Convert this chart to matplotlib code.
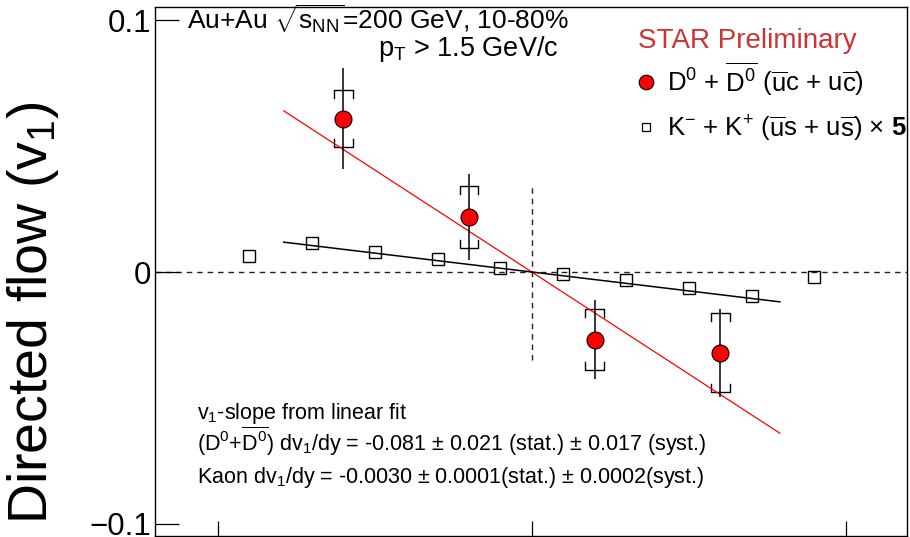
import numpy as np
import matplotlib
matplotlib.use('Agg')
import matplotlib.pyplot as plt
from matplotlib.lines import Line2D

plt.rcParams['font.family'] = ['Liberation Sans', 'DejaVu Sans']
plt.rcParams['mathtext.fontset'] = 'custom'
plt.rcParams['mathtext.rm'] = 'Liberation Sans'
plt.rcParams['mathtext.it'] = 'Liberation Sans'
plt.rcParams['mathtext.sf'] = 'Liberation Sans'
plt.rcParams['mathtext.bf'] = 'Liberation Sans:bold'

# D0 + D0bar v1 vs rapidity
d0_y = [-0.6, -0.2, 0.2, 0.6]
d0_v1 = [0.0609, 0.0218, -0.0268, -0.0320]
d0_stat = [0.0200, 0.0171, 0.0157, 0.0175]
d0_syst = [0.0112, 0.0124, 0.0122, 0.0157]

# kaon v1 (already scaled by 5)
k_y = [-0.9, -0.7, -0.5, -0.3, -0.1, 0.1, 0.3, 0.5, 0.7, 0.9]
k_v1_x5 = [0.0065, 0.0115, 0.0078, 0.0050, 0.0015, -0.0009, -0.0032, -0.0065, -0.0095, -0.0021]

# linear fit slopes
d0_slope = -0.081
k_slope = -0.0030
k_scale = 5
fit_range = 0.79

fig = plt.figure(figsize=(9.1, 5.37), dpi=100)
ax = fig.add_axes([155 / 910, 1 / 537, 752 / 910, 529 / 537])
ax.set_xlim(-1.2, 1.195)
ax.set_ylim(-0.1048, 0.1052)

# reference lines
ax.axhline(0, color='#222222', lw=1.0, ls=(0, (4, 3.5)), zorder=1)
ax.plot([0, 0], [-0.035, 0.035], color='#222222', lw=1.0, ls=(0, (4, 3.5)), zorder=1)

# fit lines
xf = np.array([-fit_range, fit_range])
ax.plot(xf, d0_slope * xf, color='red', lw=0.9, zorder=3)
ax.plot(xf, k_scale * k_slope * xf, color='black', lw=1.1, zorder=3)

# systematic brackets
bw = 0.030
bl = 0.0032
for x, y, s in zip(d0_y, d0_v1, d0_syst):
    ax.plot([x - bw, x - bw, x + bw, x + bw], [y + s - bl, y + s, y + s, y + s - bl],
            color='black', lw=1.0, zorder=2)
    ax.plot([x - bw, x - bw, x + bw, x + bw], [y - s + bl, y - s, y - s, y - s + bl],
            color='black', lw=1.0, zorder=2)

ax.errorbar(d0_y, d0_v1, yerr=d0_stat, fmt='none', ecolor='black', elinewidth=1.1,
            capsize=0, zorder=4)
ax.plot(d0_y, d0_v1, 'o', ms=12.2, mfc='red', mec='black', mew=0.8, zorder=5)
ax.plot(k_y, k_v1_x5, 's', ms=8.6, mfc='none', mec='black', mew=1.0, zorder=5)

# axes styling
for sp in ax.spines.values():
    sp.set_linewidth(1.0)
ax.set_yticks([-0.1, 0, 0.1])
ax.set_yticklabels(['\u22120.1', '0', '0.1'])
ax.set_xticks([-1, 0, 1])
ax.tick_params(axis='y', direction='in', length=17, width=0.9, labelsize=22.5, pad=3)
ax.tick_params(axis='x', direction='in', length=11, width=0.9, labelbottom=False)

fig.text(33 / 910, 1 - 313 / 537, 'Directed flow (v$_1$)', rotation=90,
         ha='center', va='center', fontsize=40)

# header text
fig.text(187 / 910, 1 - 30 / 537, r'Au+Au $\sqrt{s_{NN}}$=200 GeV, 10-80%',
         fontsize=19, ha='left', va='baseline')
fig.text(378 / 910, 1 - 56 / 537, r'p$_T$ > 1.5 GeV/c',
         fontsize=19.5, ha='left', va='baseline')
fig.text(638 / 910, 1 - 48 / 537, 'STAR Preliminary', color='#cc3333',
         fontsize=20, ha='left', va='baseline')

h_d0 = Line2D([], [], marker='o', ls='none', ms=10.5, mfc='red', mec='black', mew=0.8)
h_k = Line2D([], [], marker='s', ls='none', ms=6, mfc='none', mec='black', mew=0.9)
ax.legend([h_d0, h_k],
          [r'D$^0$ + $\overline{\mathrm{D}^0}$ ($\overline{\mathrm{u}}$c + u$\overline{\mathrm{c}}$)',
           r'K$^{-}$ + K$^{+}$ ($\overline{\mathrm{u}}$s + u$\overline{\mathrm{s}}$) $\times$ $\mathbf{5}$'],
          loc='upper left', bbox_to_anchor=(634 / 910, 1 - 60 / 537),
          bbox_transform=fig.transFigure, frameon=False, fontsize=18.5,
          handlelength=0.9, handletextpad=0.4, borderpad=0, borderaxespad=0,
          labelspacing=0.62)

# slope summary
fig.text(197 / 910, 1 - 419 / 537, 'v$_1$-slope from linear fit', fontsize=15.5, va='baseline')
fig.text(197 / 910, 1 - 451 / 537,
         r'(D$^0$+$\overline{\mathrm{D}^0}$) dv$_1$/dy = -0.081 $\pm$ 0.021 (stat.) $\pm$ 0.017 (syst.)',
         fontsize=15.5, va='baseline')
fig.text(197 / 910, 1 - 483 / 537,
         r'Kaon dv$_1$/dy = -0.0030 $\pm$ 0.0001(stat.) $\pm$ 0.0002(syst.)',
         fontsize=15.5, va='baseline')

fig.savefig('out.png', dpi=100)
